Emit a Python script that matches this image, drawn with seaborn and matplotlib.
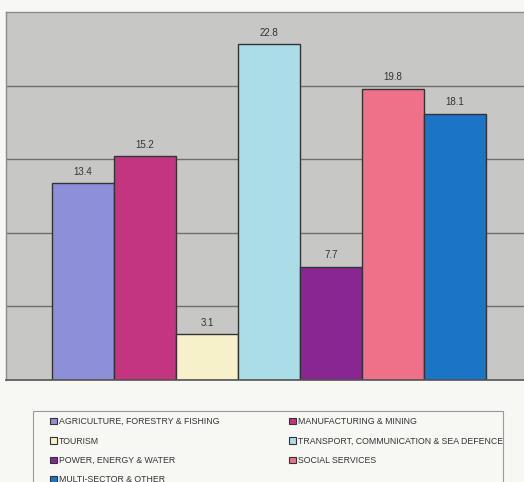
import matplotlib
matplotlib.use("Agg")
import matplotlib.pyplot as plt
import matplotlib.patches as mpatches
import seaborn as sns
import pandas as pd

categories = [
    "AGRICULTURE, FORESTRY & FISHING",
    "MANUFACTURING & MINING",
    "TOURISM",
    "TRANSPORT, COMMUNICATION & SEA DEFENCE",
    "POWER, ENERGY & WATER",
    "SOCIAL SERVICES",
    "MULTI-SECTOR & OTHER",
]
values = [13.4, 15.2, 3.1, 22.8, 7.7, 19.8, 18.1]
value_labels = ["13.4", "15.2", "3.1", "22.8", "7.7", "19.8", "18.1"]
colors = ["#8d90d8", "#c3367f", "#f6f1c9", "#aadde7", "#8a2692", "#ef7189", "#1b74c5"]

sns.set_theme(style="white")
plt.rcParams["font.family"] = ["Liberation Sans Narrow", "Liberation Sans", "DejaVu Sans"]

df = pd.DataFrame({"cat": categories, "val": values})

fig = plt.figure(figsize=(5.24, 4.82), dpi=100)
fig.patch.set_facecolor("#f7f7f4")
W, H = 524, 482
ax = fig.add_axes([6 / W, (H - 380) / H, 1 - 6 / W + 0.01, (380 - 12) / H])
ax.set_facecolor("#c7c7c6")

sns.barplot(data=df, x="cat", y="val", hue="cat", palette=colors, width=1.0,
            edgecolor="#333333", linewidth=1.0, legend=False, ax=ax, saturation=1)

ax.set_ylim(0, 25)
ax.set_xlim(-1.245, 7.2)
ax.set_yticks([5, 10, 15, 20])
ax.yaxis.grid(True, color="#6e6e6e", linewidth=1.0)
ax.set_axisbelow(True)
ax.set_yticklabels([])
ax.set_xticks([])
ax.set_xlabel("")
ax.set_ylabel("")
ax.tick_params(left=False, bottom=False)
for s in ["top", "left", "right"]:
    ax.spines[s].set_color("#8a8a8a")
    ax.spines[s].set_linewidth(1.0)
ax.spines["bottom"].set_color("#555555")
ax.spines["bottom"].set_linewidth(1.2)

for i, (v, lab) in enumerate(zip(values, value_labels)):
    ax.annotate(lab, (i, v), xytext=(0, 4.5), textcoords="offset points",
                ha="center", va="bottom", fontsize=7, color="#333333")

# legend frame
frame = mpatches.Rectangle((33 / W, -0.05), (503 - 33) / W, (H - 411) / H + 0.05,
                           transform=fig.transFigure, facecolor="#f7f7f4",
                           edgecolor="#9a9a9a", linewidth=0.8, zorder=0)
fig.patches.append(frame)

col1 = [0, 2, 4, 6]
col2 = [1, 3, 5]
for col, x0 in ((col1, 50), (col2, 289)):
    handles = [mpatches.Patch(facecolor=colors[i], edgecolor="#333333", linewidth=0.8,
                              label=categories[i]) for i in col]
    leg = fig.legend(handles=handles, loc="upper left",
                     bbox_to_anchor=(x0 / W, (H - 417) / H),
                     frameon=False, fontsize=6.3, handlelength=0.8, handleheight=0.8,
                     handletextpad=0.25, labelspacing=1.2,
                     borderpad=0, borderaxespad=0)
    for t in leg.get_texts():
        t.set_color("#333333")

fig.savefig("out.png", dpi=100, facecolor=fig.get_facecolor())
